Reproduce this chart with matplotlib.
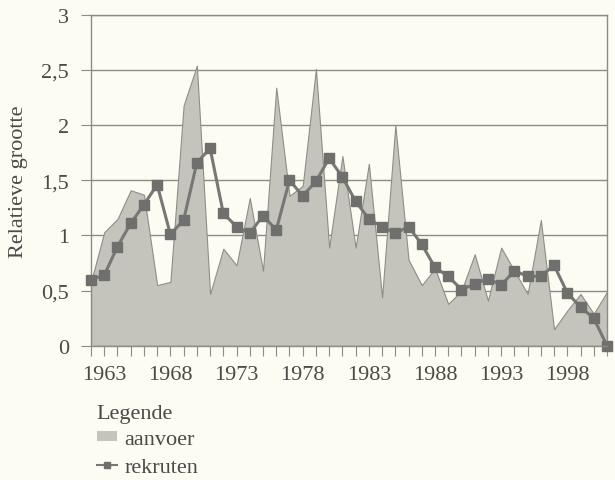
import matplotlib
matplotlib.use("Agg")
import matplotlib.pyplot as plt
from matplotlib.lines import Line2D
from matplotlib.patches import Patch

plt.rcParams['font.family'] = ['Liberation Serif', 'DejaVu Serif']

jaren = list(range(1962, 2002))
aanvoer = [0.58, 1.03, 1.15, 1.41, 1.37, 0.55, 0.58, 2.18, 2.54, 0.47,
           0.88, 0.73, 1.34, 0.68, 2.34, 1.36, 1.45, 2.51, 0.89, 1.72,
           0.89, 1.65, 0.44, 2.00, 0.78, 0.55, 0.70, 0.38, 0.50, 0.83,
           0.41, 0.89, 0.68, 0.47, 1.14, 0.15, 0.32, 0.47, 0.29, 0.49]
rekruten = [0.60, 0.64, 0.90, 1.11, 1.28, 1.46, 1.01, 1.14, 1.66, 1.79,
            1.20, 1.08, 1.02, 1.18, 1.05, 1.50, 1.36, 1.49, 1.70, 1.53,
            1.31, 1.15, 1.08, 1.02, 1.08, 0.92, 0.71, 0.63, 0.51, 0.56,
            0.61, 0.55, 0.68, 0.63, 0.63, 0.73, 0.48, 0.35, 0.25, 0.00]
label_jaren = [1963, 1968, 1973, 1978, 1983, 1988, 1993, 1998]
y_ticks = [0, 0.5, 1, 1.5, 2, 2.5, 3]
y_labels = ['0', '0,5', '1', '1,5', '2', '2,5', '3']

bg = '#fcfcf2'
tekst = '#4a4a48'
lijn = '#8c8c86'
fs = 16

fig = plt.figure(figsize=(6.15, 4.81), dpi=100, facecolor=bg)
ax = fig.add_axes([0.148, 0.279, 0.839, 0.688], facecolor=bg)

ax.fill_between(jaren, aanvoer, 0, facecolor='#c4c4bc', edgecolor='#8e8e88',
                linewidth=0.8, zorder=2)
ax.plot(jaren, rekruten, color='#777775', linewidth=2.2, marker='s',
        markersize=7, markerfacecolor='#6f6f6d', markeredgecolor='#6f6f6d',
        zorder=4, clip_on=False)

ax.set_xlim(1962, 2001)
ax.set_ylim(0, 3)
ax.set_xticks(jaren)
ax.set_xticklabels([str(j) if j in label_jaren else '' for j in jaren])
ax.set_yticks(y_ticks)
ax.set_yticklabels(y_labels)
ax.grid(axis='y', color=lijn, linewidth=1, zorder=1)
for s in ax.spines.values():
    s.set_color(lijn)
    s.set_linewidth(1)
ax.spines['bottom'].set_zorder(5)
ax.tick_params(axis='both', direction='out', length=7, color=lijn,
               labelcolor=tekst, labelsize=fs)
ax.tick_params(axis='x', pad=7)
ax.tick_params(axis='y', pad=9)
ax.set_ylabel('Relatieve grootte', color=tekst, fontsize=fs)
ax.yaxis.set_label_coords(-0.123, 0.5)

handles = [Patch(facecolor='#c4c4bc', edgecolor='none'),
           Line2D([], [], color='#777775', linewidth=1.5, marker='s',
                  markersize=4, markerfacecolor='#6f6f6d', markeredgecolor='#6f6f6d')]
leg = fig.legend(handles, ['aanvoer', 'rekruten'], title='Legende',
                 loc='upper left', bbox_to_anchor=(0.157, 0.158),
                 frameon=False, fontsize=fs, title_fontsize=fs,
                 alignment='left', handlelength=0.9, handleheight=0.3,
                 handletextpad=0.35, labelspacing=0.4, borderpad=0,
                 borderaxespad=0, labelcolor=tekst)
leg.get_title().set_color(tekst)
leg._legend_box.sep = 5

fig.savefig('out.png', dpi=100, facecolor=bg)
